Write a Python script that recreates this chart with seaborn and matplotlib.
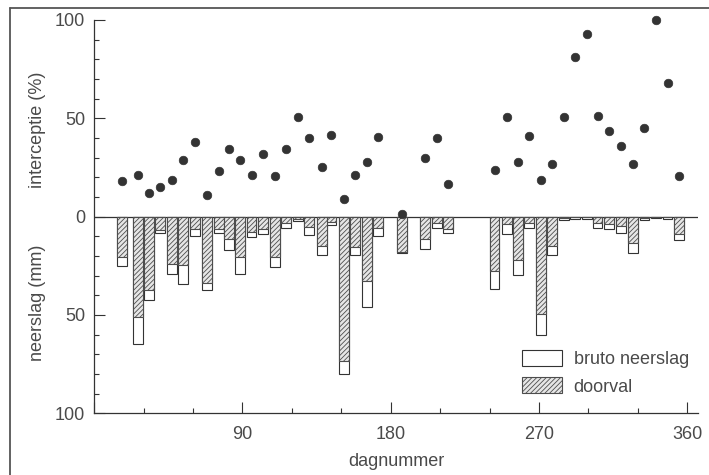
import matplotlib
matplotlib.use("Agg")
import matplotlib.pyplot as plt
import seaborn as sns
import pandas as pd
from matplotlib.patches import Patch
from matplotlib.ticker import MultipleLocator, FuncFormatter

# === data ===
dagnummer = [17, 26.5, 33.5, 40, 47, 54, 61, 68.5, 75.5, 82, 88.5, 95.5,
             102.5, 109.5, 116.5, 123.5, 130.5, 138, 144, 151.5, 158.5, 165.5,
             172.5, 187, 201, 208, 215, 243, 250.5, 257.5, 264, 271, 278, 285,
             292, 299, 305.5, 312.5, 320, 327, 334, 341, 348, 355]
bruto_neerslag = [25.2, 64.6, 42.2, 8.3, 29.1, 34.3, 9.9, 37.5, 8.5, 17.2, 29.2,
                  10.3, 8.7, 25.5, 5.6, 2.0, 9.4, 19.6, 4.4, 80.1, 19.7, 45.9,
                  9.9, 18.4, 16.2, 5.6, 8.2, 36.7, 8.7, 29.9, 5.8, 60.0, 19.7,
                  1.5, 1.2, 1.0, 6.0, 6.5, 8.2, 18.7, 1.5, 0.6, 1.0, 11.9]
doorval = [20.5, 51.0, 37.1, 7.0, 24.0, 24.8, 6.3, 33.5, 6.1, 11.3, 20.5, 7.9,
           6.1, 20.4, 3.4, 1.0, 5.1, 15.0, 2.6, 73.3, 15.5, 32.8, 5.6, 18.2,
           11.2, 3.1, 6.1, 27.7, 3.9, 21.8, 3.1, 49.3, 15.0, 0.7, 0.2, 0.1, 3.1,
           3.6, 4.8, 13.5, 0.8, 0.0, 0.3, 9.0]
interceptie = [18.0, 21.4, 12.2, 15.2, 18.5, 29.0, 37.8, 10.8, 23.0, 34.6, 28.7,
               21.3, 32.1, 20.6, 34.6, 50.7, 40.2, 25.0, 41.7, 9.0, 21.1, 28.0,
               40.5, 1.2, 29.9, 40.2, 16.5, 23.8, 50.5, 27.9, 41.2, 18.8, 26.9,
               50.5, 81.4, 92.9, 51.2, 43.4, 36.0, 27.0, 45.1, 100.0, 68.2, 20.8]

df = pd.DataFrame({"dag": dagnummer, "bruto": bruto_neerslag,
                   "doorval": doorval, "interceptie": interceptie})

sns.set_style("ticks")
plt.rcParams["font.family"] = ["Liberation Sans", "DejaVu Sans"]
plt.rcParams["hatch.linewidth"] = 0.6

ink = "#333333"
txt = "#4a4a4a"
hatch_kleur = "#4d4d4d"

fig = plt.figure(figsize=(7.09, 4.75), dpi=100)
ax = fig.add_axes([0.1329, 0.1299, 0.8516, 0.828])

# --- neerslag bars (plotted downwards) ---
ax.bar(df["dag"], -df["bruto"], width=6, color="white", edgecolor=ink,
       linewidth=0.8, zorder=2)
ax.bar(df["dag"], -df["doorval"], width=6, color="#e6e6e6", edgecolor=hatch_kleur,
       hatch="///////", linewidth=0.8, zorder=3)

# --- interceptie points ---
sns.scatterplot(data=df, x="dag", y="interceptie", ax=ax, color=ink, s=38,
                edgecolor=ink, linewidth=0.5, zorder=4, clip_on=False)

ax.axhline(0, color=ink, linewidth=0.9, zorder=1)

ax.set_xlim(0, 366.5)
ax.set_ylim(-100, 100)
ax.xaxis.set_major_locator(MultipleLocator(90))
ax.xaxis.set_minor_locator(MultipleLocator(30))
ax.yaxis.set_major_locator(MultipleLocator(50))
ax.yaxis.set_minor_locator(MultipleLocator(10))
ax.xaxis.set_major_formatter(FuncFormatter(lambda v, p: "" if v == 0 else f"{v:.0f}"))
ax.yaxis.set_major_formatter(FuncFormatter(lambda v, p: f"{abs(v):.0f}"))

ax.tick_params(axis="both", which="major", direction="in", length=8,
               width=0.8, color=ink, labelsize=13, labelcolor=txt)
ax.tick_params(axis="both", which="minor", direction="in", length=3.5,
               width=0.8, color=ink)
ax.tick_params(axis="x", which="major", pad=9)
ax.tick_params(axis="y", which="major", pad=6.5)

sns.despine(ax=ax)
for s in ["left", "bottom"]:
    ax.spines[s].set_color(ink)
    ax.spines[s].set_linewidth(0.9)

ax.set_xlabel("dagnummer", fontsize=13, color=txt, labelpad=7)
ax.set_ylabel("")
ax.text(-0.0947, 44, "interceptie (%)", transform=ax.get_yaxis_transform(),
        rotation=90, ha="center", va="center", fontsize=13, color=txt)
ax.text(-0.0947, -44, "neerslag (mm)", transform=ax.get_yaxis_transform(),
        rotation=90, ha="center", va="center", fontsize=13, color=txt)

handles = [Patch(facecolor="white", edgecolor=ink, linewidth=0.8),
           Patch(facecolor="#e6e6e6", edgecolor=hatch_kleur, hatch="///////",
                 linewidth=0.8)]
ax.legend(handles, ["bruto neerslag", "doorval"], loc="upper left",
          bbox_to_anchor=(0.694, 0.184), frameon=False, fontsize=13,
          handlelength=2.2, handleheight=1.0, labelspacing=0.5,
          borderpad=0, handletextpad=0.65, labelcolor=txt)

# scan border of the original page
fig.add_artist(plt.Line2D([0.0141, 0.0141], [0, 0.983], color="#555555",
                          linewidth=1.3, transform=fig.transFigure))
fig.add_artist(plt.Line2D([0.0141, 1], [0.983, 0.983], color="#555555",
                          linewidth=1.3, transform=fig.transFigure))

plt.savefig("out.png", dpi=100)
plt.close()
